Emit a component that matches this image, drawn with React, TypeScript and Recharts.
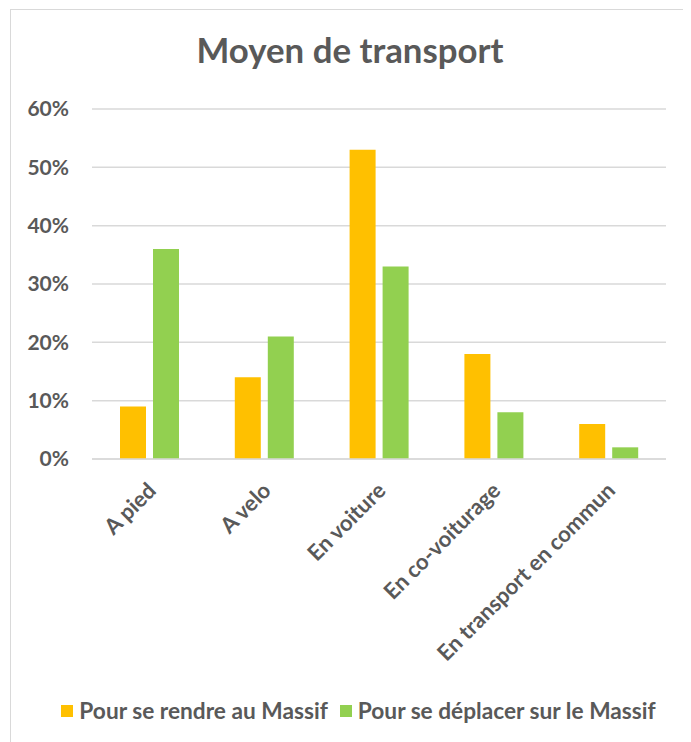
import React from 'react';
import { BarChart, Bar, XAxis, YAxis, CartesianGrid, Legend } from 'recharts';

const categories = ['A pied', 'A velo', 'En voiture', 'En co-voiturage', 'En transport en commun'];
const seriesRendre = [9, 14, 53, 18, 6];
const seriesDeplacer = [36, 21, 33, 8, 2];
const yTicks = [0, 10, 20, 30, 40, 50, 60];
const seriesNames = ['Pour se rendre au Massif', 'Pour se déplacer sur le Massif'];
const seriesColors = ['#FFC000', '#92D050'];

const data = categories.map((c, i) => ({ name: c, rendre: seriesRendre[i], deplacer: seriesDeplacer[i] }));

const FONT = 'Lato, "Open Sans", sans-serif';
const TEXT = '#595959';

const renderLegend = () => (
  <div style={{ height: 25, display: 'flex', justifyContent: 'center', alignItems: 'center', fontFamily: FONT, fontWeight: 700, fontSize: 22.7, color: TEXT, whiteSpace: 'nowrap' }}>
    {seriesNames.map((n, i) => (
      <span key={n} style={{ display: 'inline-flex', alignItems: 'center', marginRight: i === 0 ? 12 : 0 }}>
        <span style={{ display: 'inline-block', width: 12, height: 12, background: seriesColors[i], marginRight: 6 }} />
        {n}
      </span>
    ))}
  </div>
);

export default function App() {
  return (
    <div style={{ position: 'relative', width: 683, height: 734, overflow: 'hidden' }}>
      <div style={{ position: 'absolute', left: 2, top: 1, width: 720, height: 780, border: '1px solid #D9D9D9', boxSizing: 'border-box' }} />
      <div style={{ position: 'absolute', left: 0, top: 0 }}>
        <BarChart
          width={683}
          height={734}
          data={data}
          margin={{ top: 101, right: 25, left: 0, bottom: 10 }}
          barSize={26}
          barGap={7}
        >
          <text x={342} y={55} textAnchor="middle" style={{ fontFamily: FONT, fontWeight: 700, fontSize: 34.8, fill: TEXT }}>
            Moyen de transport
          </text>
          <CartesianGrid vertical={false} stroke="#D9D9D9" strokeWidth={1.5} />
          <YAxis
            domain={[0, 60]}
            ticks={yTicks}
            tickFormatter={(v: number) => `${v}%`}
            axisLine={false}
            tickLine={false}
            tickSize={0}
            tickMargin={23}
            width={84}
            tick={{ fill: TEXT, fontFamily: FONT, fontWeight: 700, fontSize: 21 }}
          />
          <XAxis
            dataKey="name"
            axisLine={{ stroke: '#D9D9D9', strokeWidth: 1.5 }}
            tickLine={false}
            tickSize={0}
            tickMargin={22}
            interval={0}
            height={248}
            angle={-45}
            textAnchor="end"
            dx={-3}
            tick={{ fill: TEXT, fontFamily: FONT, fontWeight: 700, fontSize: 22 }}
          />
          <Legend verticalAlign="bottom" content={renderLegend} wrapperStyle={{ left: 18, width: 665, bottom: 19 }} />
          <Bar dataKey="rendre" name={seriesNames[0]} fill={seriesColors[0]} isAnimationActive={false} />
          <Bar dataKey="deplacer" name={seriesNames[1]} fill={seriesColors[1]} isAnimationActive={false} />
        </BarChart>
      </div>
    </div>
  );
}
